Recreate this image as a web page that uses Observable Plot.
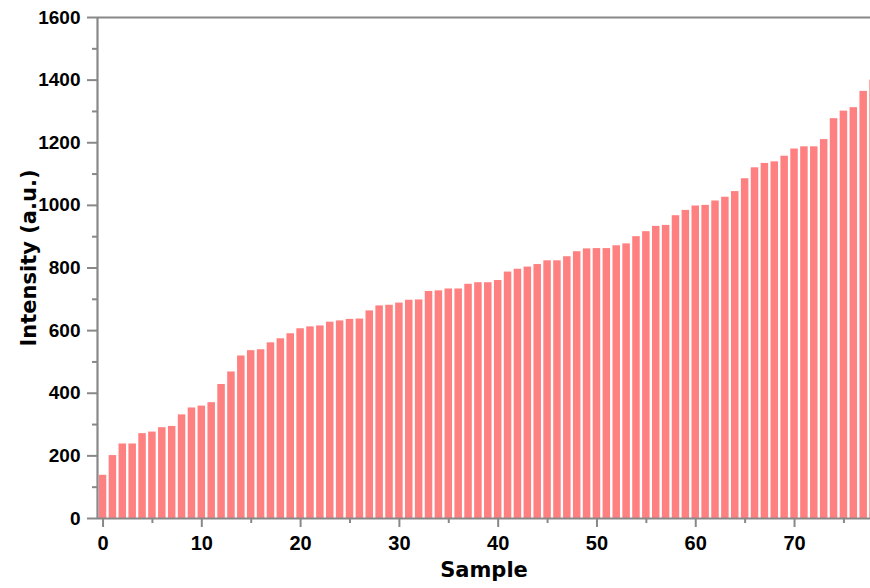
<!DOCTYPE html>
<html>
<head>
<meta charset="utf-8">
<script src="https://cdn.jsdelivr.net/npm/d3@7"></script>
<script src="https://cdn.jsdelivr.net/npm/@observablehq/plot@0.6"></script>
<style>
  html, body { margin: 0; padding: 0; background: #fff; overflow: hidden; }
</style>
</head>
<body>
<div id="chart"></div>
<script>
// Intensity per sample
const intensity = [
  138, 201, 238, 238, 271, 276, 290, 294, 331, 353,
  359, 370, 428, 468, 519, 536, 539, 561, 574, 590,
  606, 612, 615, 627, 631, 636, 637, 663, 679, 681,
  688, 697, 698, 725, 727, 733, 733, 748, 753, 753,
  760, 787, 796, 803, 811, 823, 823, 836, 852, 861,
  862, 862, 871, 877, 900, 916, 933, 936, 967, 984,
  998, 1000, 1014, 1026, 1044, 1085, 1120, 1134, 1139, 1157,
  1180, 1187, 1187, 1210, 1277, 1301, 1312, 1364, 1400
];
const sampleIndex = intensity.map((_, i) => i);

const xTicks = [0, 10, 20, 30, 40, 50, 60, 70];
const xMinorTicks = [5, 15, 25, 35, 45, 55, 65, 75];
const yTicks = [0, 200, 400, 600, 800, 1000, 1200, 1400, 1600];
const yMinorTicks = [100, 300, 500, 700, 900, 1100, 1300, 1500];

const xDomain = [-0.56, 77.69];
const yDomain = [0, 1600];

const xTitle = "Sample";
const yTitle = "Intensity (a.u.)";

const data = sampleIndex.map(i => ({i, v: intensity[i]}));

const axisColor = "#888888";
const halfBar = 0.38;

const chart = Plot.plot({
  width: 870,
  height: 588,
  marginLeft: 97,
  marginRight: 0,
  marginTop: 17,
  marginBottom: 70,
  style: {
    fontFamily: "'Liberation Sans', Arial, sans-serif",
    fontWeight: "bold",
    color: "black",
    background: "white"
  },
  x: {domain: xDomain},
  y: {domain: yDomain},
  marks: [
    Plot.rectY(data, {
      x1: d => d.i - halfBar,
      x2: d => d.i + halfBar,
      y: "v",
      fill: "#ff8080",
      clip: true
    }),
    Plot.ruleY([yDomain[0]], {stroke: axisColor, strokeWidth: 2.2}),
    Plot.ruleY([yDomain[1]], {stroke: axisColor, strokeWidth: 2.2}),
    Plot.ruleX([xDomain[0]], {stroke: axisColor, strokeWidth: 2.2}),
    Plot.axisX(xTicks, {
      tickSize: 9, tickPadding: 8, stroke: axisColor, strokeWidth: 2,
      fontSize: 20, fontWeight: "bold", fill: "black",
      tickFormat: d => String(d), label: null
    }),
    Plot.axisX(xMinorTicks, {
      tickSize: 5, stroke: axisColor, strokeWidth: 2,
      tickFormat: () => "", label: null
    }),
    Plot.axisY(yTicks, {
      tickSize: 10, tickPadding: 7, stroke: axisColor, strokeWidth: 2,
      fontSize: 19, fontWeight: "bold", fill: "black",
      tickFormat: d => String(d), label: null
    }),
    Plot.axisY(yMinorTicks, {
      tickSize: 5, stroke: axisColor, strokeWidth: 2,
      tickFormat: () => "", label: null
    }),
    Plot.text([xTitle], {
      text: d => d, frameAnchor: "bottom", dy: 52,
      textAnchor: "middle", lineAnchor: "middle",
      fontSize: 21, fontWeight: "bold", fill: "black",
      fontFamily: "'DejaVu Sans', sans-serif"
    }),
    Plot.text([yTitle], {
      text: d => d, frameAnchor: "left", dx: -68, dy: -10, rotate: -90,
      textAnchor: "middle", lineAnchor: "middle",
      fontSize: 21, fontWeight: "bold", fill: "black",
      fontFamily: "'DejaVu Sans', sans-serif"
    })
  ]
});

document.getElementById("chart").appendChild(chart);
</script>
</body>
</html>
